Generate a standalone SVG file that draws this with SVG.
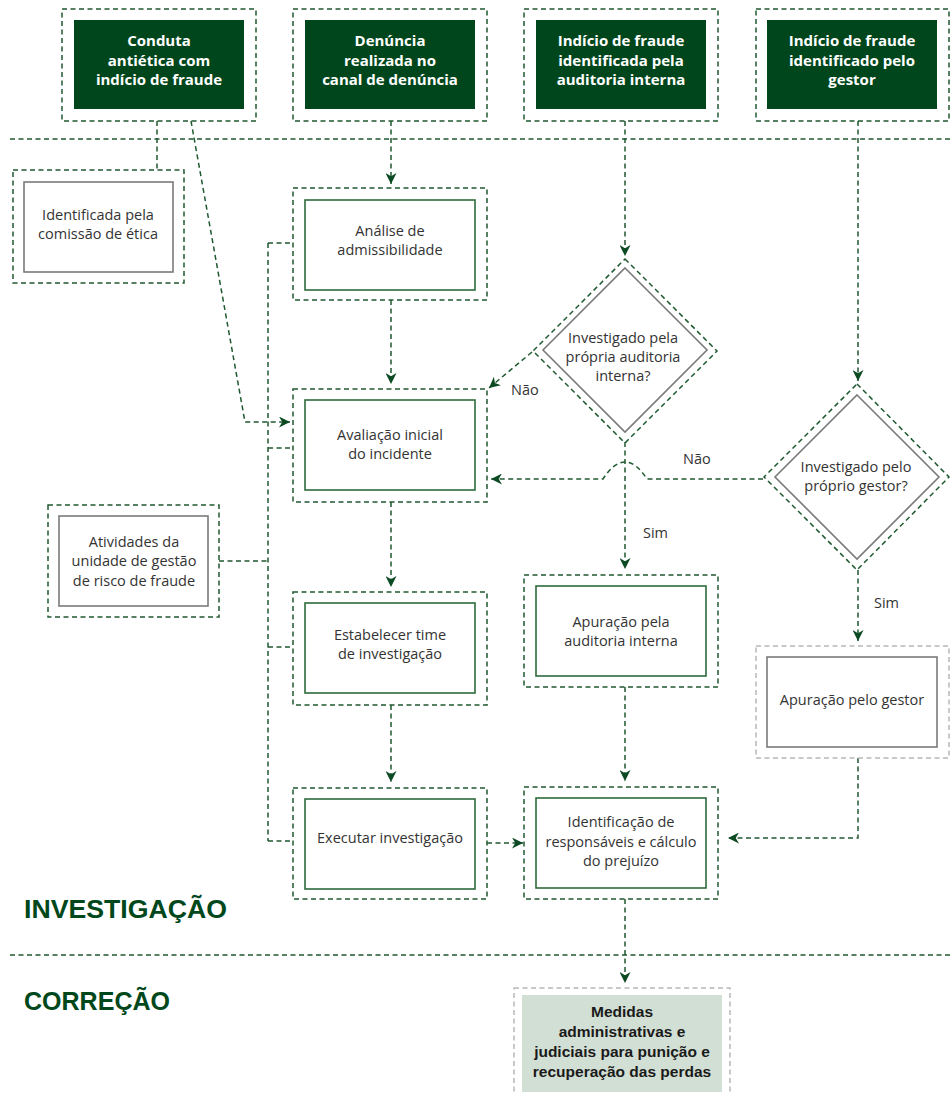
<svg xmlns="http://www.w3.org/2000/svg" width="951" height="1094" viewBox="0 0 951 1094">
<defs>
<style>
.od{fill:none;stroke:#1f5a30;stroke-width:1.5;stroke-dasharray:5 3.5}
.og{fill:none;stroke:#b8b8b8;stroke-width:1.5;stroke-dasharray:5 3.5}
.top{fill:#00461c}
.ig{fill:#fff;stroke:#2e6b3c;stroke-width:1.6}
.igr{fill:#fff;stroke:#7a7a7a;stroke-width:1.6}
.tw{font-family:"Open Sans","Liberation Sans",sans-serif;font-weight:bold;font-size:15px;fill:#fff;text-anchor:middle}
.tb{font-family:"Open Sans","Liberation Sans",sans-serif;font-size:14.5px;fill:#333;text-anchor:middle}
.tl{font-family:"Open Sans","Liberation Sans",sans-serif;font-size:14.5px;fill:#333}
.tm{font-family:"Liberation Sans",sans-serif;font-weight:bold;font-size:15.5px;fill:#1a1a1a;text-anchor:middle}
.sec{font-family:"Liberation Sans",sans-serif;font-weight:bold;font-size:25px;fill:#00471b}
.c{fill:none;stroke:#1f5a30;stroke-width:1.5;stroke-dasharray:5 3.5}
.ca{fill:none;stroke:#1f5a30;stroke-width:1.5;stroke-dasharray:5 3.5;marker-end:url(#ah)}
</style>
<marker id="ah" viewBox="0 0 10 10" refX="10" refY="5" markerWidth="11" markerHeight="11" markerUnits="userSpaceOnUse" orient="auto">
<path d="M0,0 L10,5 L0,10 L3,5 z" fill="#0b4a22"/>
</marker>
</defs>

<g id="connectors">
<path class="c" d="M10 139 H951"/>
<path class="c" d="M10 955 H951"/>
<path class="c" d="M157 121 V170"/>
<path class="ca" d="M191 121 L245 422 H290"/>
<path class="ca" d="M391 121 V184"/>
<path class="ca" d="M625 121 V256"/>
<path class="ca" d="M858 121 V381"/>
<path class="c" d="M268 243 V841"/>
<path class="c" d="M268 243 H293 M268 448 H293 M268 647 H293 M268 841 H293 M219 561 H268"/>
<path class="ca" d="M391 300 V384"/>
<path class="ca" d="M391 502 V587"/>
<path class="ca" d="M391 705 V782"/>
<path class="ca" d="M532 352 L489 388"/>
<path class="ca" d="M625 442 V569"/>
<path class="ca" d="M763 479 H647 Q625 445 603 479 H491"/>
<path class="ca" d="M858 570 V641"/>
<path class="ca" d="M625 687 V781"/>
<path class="ca" d="M858 758 V838 H728"/>
<path class="ca" d="M487 843 H523"/>
<path class="ca" d="M625 899 V983"/>
<text class="tl" x="511" y="395">Não</text>
<text class="tl" x="683" y="464">Não</text>
<text class="tl" x="643" y="538">Sim</text>
<text class="tl" x="874" y="608">Sim</text>
</g>

<g id="n1">
<rect class="od" x="62" y="9" width="194" height="112"/>
<rect class="top" x="74" y="20" width="170" height="89"/>
<text class="tw"><tspan x="159" y="46">Conduta</tspan><tspan x="159" y="66">antiética com</tspan><tspan x="159" y="85">indício de fraude</tspan></text>
</g>
<g id="n2">
<rect class="od" x="293" y="9" width="194" height="112"/>
<rect class="top" x="305" y="20" width="170" height="89"/>
<text class="tw"><tspan x="390" y="46">Denúncia</tspan><tspan x="390" y="66">realizada no</tspan><tspan x="390" y="85">canal de denúncia</tspan></text>
</g>
<g id="n3">
<rect class="od" x="524" y="9" width="194" height="112"/>
<rect class="top" x="536" y="20" width="170" height="89"/>
<text class="tw"><tspan x="621" y="46">Indício de fraude</tspan><tspan x="621" y="66">identificada pela</tspan><tspan x="621" y="85">auditoria interna</tspan></text>
</g>
<g id="n4">
<rect class="od" x="756" y="9" width="193" height="112"/>
<rect class="top" x="767" y="20" width="170" height="89"/>
<text class="tw"><tspan x="852" y="46">Indício de fraude</tspan><tspan x="852" y="66">identificado pelo</tspan><tspan x="852" y="85">gestor</tspan></text>
</g>

<g id="comissao">
<rect class="od" x="13" y="170" width="171" height="113"/>
<rect class="igr" x="24" y="182" width="149" height="90"/>
<text class="tb"><tspan x="98" y="220">Identificada pela</tspan><tspan x="98" y="239">comissão de ética</tspan></text>
</g>
<g id="analise">
<rect class="od" x="293" y="188" width="194" height="112"/>
<rect class="ig" x="305" y="200" width="170" height="90"/>
<text class="tb"><tspan x="390" y="236">Análise de</tspan><tspan x="390" y="255">admissibilidade</tspan></text>
</g>
<g id="avaliacao">
<rect class="od" x="293" y="389" width="194" height="113"/>
<rect class="ig" x="305" y="400" width="170" height="90"/>
<text class="tb"><tspan x="390" y="440">Avaliação inicial</tspan><tspan x="390" y="459">do incidente</tspan></text>
</g>
<g id="atividades">
<rect class="od" x="48" y="505" width="171" height="112"/>
<rect class="igr" x="59" y="516" width="149" height="90"/>
<text class="tb"><tspan x="134" y="547">Atividades da</tspan><tspan x="134" y="566">unidade de gestão</tspan><tspan x="134" y="586">de risco de fraude</tspan></text>
</g>
<g id="estabelecer">
<rect class="od" x="293" y="592" width="194" height="113"/>
<rect class="ig" x="305" y="603" width="170" height="90"/>
<text class="tb"><tspan x="390" y="640">Estabelecer time</tspan><tspan x="390" y="659">de investigação</tspan></text>
</g>
<g id="executar">
<rect class="od" x="293" y="788" width="194" height="111"/>
<rect class="ig" x="305" y="799" width="170" height="90"/>
<text class="tb" x="390" y="843">Executar investigação</text>
</g>
<g id="d1">
<polygon class="od" points="625,259 717,351 625,443 533,351"/>
<polygon class="igr" points="625,268 707,350 625,432 543,350"/>
<text class="tb"><tspan x="623" y="343">Investigado pela</tspan><tspan x="623" y="362">própria auditoria</tspan><tspan x="623" y="381">interna?</tspan></text>
</g>
<g id="d2">
<polygon class="od" points="857,384 949,477 857,570 764,477"/>
<polygon class="igr" points="857,395 939,477 857,559 775,477"/>
<text class="tb"><tspan x="856" y="472">Investigado pelo</tspan><tspan x="856" y="491">próprio gestor?</tspan></text>
</g>
<g id="apur-aud">
<rect class="od" x="524" y="575" width="194" height="112"/>
<rect class="ig" x="536" y="586" width="170" height="90"/>
<text class="tb"><tspan x="621" y="627">Apuração pela</tspan><tspan x="621" y="646">auditoria interna</tspan></text>
</g>
<g id="apur-gestor">
<rect class="og" x="756" y="646" width="193" height="112"/>
<rect class="igr" x="767" y="657" width="170" height="90"/>
<text class="tb" x="852" y="705">Apuração pelo gestor</text>
</g>
<g id="identificacao">
<rect class="od" x="524" y="787" width="194" height="112"/>
<rect class="ig" x="536" y="798" width="170" height="90"/>
<text class="tb"><tspan x="621" y="827">Identificação de</tspan><tspan x="621" y="847">responsáveis e cálculo</tspan><tspan x="621" y="866">do prejuízo</tspan></text>
</g>
<g id="medidas">
<rect class="og" x="514" y="988" width="216" height="112"/>
<rect x="522" y="995" width="200" height="97" fill="#d2dfd4"/>
<text class="tm"><tspan x="622" y="1017">Medidas</tspan><tspan x="622" y="1037">administrativas e</tspan><tspan x="622" y="1057">judiciais para punição e</tspan><tspan x="622" y="1077">recuperação das perdas</tspan></text>
</g>
<g id="sections">
<text class="sec" x="24" y="918" textLength="203" lengthAdjust="spacingAndGlyphs">INVESTIGAÇÃO</text>
<text class="sec" x="24" y="1010" textLength="146" lengthAdjust="spacingAndGlyphs">CORREÇÃO</text>
</g>
</svg>
